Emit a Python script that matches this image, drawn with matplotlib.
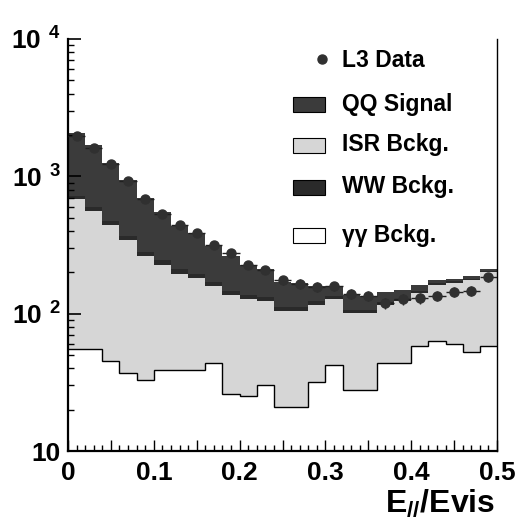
import numpy as np
import matplotlib
matplotlib.use("Agg")
import matplotlib.pyplot as plt
from matplotlib.patches import Rectangle
from matplotlib.ticker import MultipleLocator, FuncFormatter, LogLocator, NullFormatter

plt.rcParams["font.family"] = ["Liberation Sans", "DejaVu Sans"]
plt.rcParams["font.weight"] = "bold"
plt.rcParams["axes.labelweight"] = "bold"
plt.rcParams["mathtext.fontset"] = "custom"
plt.rcParams["mathtext.rm"] = "Liberation Sans:bold"
plt.rcParams["mathtext.it"] = "Liberation Sans:bold:italic"
plt.rcParams["mathtext.bf"] = "Liberation Sans:bold"

# 25 bins of E///Evis, width 0.02
bin_edges = np.arange(26) * 0.02
gg_bckg = [55, 55, 45, 37, 33, 39, 39, 39, 44, 26, 25, 30, 21,
           21, 32, 42, 28, 28, 44, 44, 58, 63, 60, 53, 58]
isr_bckg = [624, 503, 394, 306, 228, 189, 157, 143, 115, 110, 102, 93, 83,
            83, 84, 85, 73, 73, 72, 79, 84, 100, 108, 124, 142]
ww_bckg = [40, 35, 30, 26, 22, 19, 16, 14, 12, 11, 10, 9, 8,
           8, 7, 7, 6, 6, 6, 5, 5, 4, 4, 3, 4]
qq_signal = [1342, 1090, 790, 566, 416, 304, 222, 191, 142, 118, 91, 81, 59,
             56, 35, 24, 29, 27, 21, 20, 16, 10, 7, 7, 9]
l3_data = [1950, 1620, 1230, 924, 679, 528, 440, 385, 315, 277, 228, 209, 175,
           165, 157, 158, 140, 135, 120, 127, 129, 135, 144, 147, 184]

legend_labels = ["L3 Data", "QQ Signal", "ISR Bckg.", "WW Bckg.", "\u03b3\u03b3 Bckg."]

QQ_COL = "#3b3b3b"
WW_COL = "#2a2a2a"
ISR_COL = "#d6d6d6"


def main():
    fig = plt.figure(figsize=(5.2, 5.24), dpi=100)
    ax = fig.add_axes([0.1308, 0.1393, 0.8250, 0.7863])

    c_gg = np.array(gg_bckg, float)
    c_isr = c_gg + np.array(isr_bckg)
    c_ww = c_isr + np.array(ww_bckg)
    c_qq = c_ww + np.array(qq_signal)

    ax.stairs(c_isr, bin_edges, baseline=c_gg, fill=True, color=ISR_COL, lw=0, zorder=1)
    ax.stairs(c_ww, bin_edges, baseline=c_isr, fill=True, color=WW_COL, lw=0, zorder=1)
    ax.stairs(c_qq, bin_edges, baseline=c_ww, fill=True, color=QQ_COL, lw=0, zorder=1)
    ax.stairs(c_gg, bin_edges, baseline=None, color="black", lw=1, zorder=2)

    centers = 0.5 * (bin_edges[:-1] + bin_edges[1:])
    data = np.array(l3_data, float)
    ax.errorbar(centers, data, xerr=0.01, yerr=np.sqrt(data), fmt="o", ms=6.5,
                color="#303030", ecolor="#202020", elinewidth=1, capsize=0, zorder=3)

    ax.set_yscale("log")
    ax.set_xlim(0, 0.5)
    ax.set_ylim(10, 1e4)

    ax.xaxis.set_major_locator(MultipleLocator(0.05))
    ax.xaxis.set_minor_locator(MultipleLocator(0.01))

    def xfmt(v, pos):
        if abs(v * 10 - round(v * 10)) > 1e-6:
            return ""
        return "0" if abs(v) < 1e-9 else f"{v:.1f}"

    ax.xaxis.set_major_formatter(FuncFormatter(xfmt))

    def yfmt(v, pos):
        e = int(round(np.log10(v)))
        if e == 1:
            return "10"
        return r"$10^{\ \,%d}$" % e

    ax.yaxis.set_major_locator(LogLocator(base=10))
    ax.yaxis.set_major_formatter(FuncFormatter(yfmt))
    ax.yaxis.set_minor_locator(LogLocator(base=10, subs=np.arange(2, 10)))
    ax.yaxis.set_minor_formatter(NullFormatter())

    ax.tick_params(axis="x", which="major", direction="in", length=8, width=1,
                   labelsize=19, pad=7)
    ax.tick_params(axis="y", which="major", direction="in", length=9, width=1.2,
                   labelsize=19, pad=5)
    ax.tick_params(axis="both", which="minor", direction="in", length=4, width=1)

    ax.spines["top"].set_visible(False)
    ax.spines["left"].set_linewidth(1.6)
    ax.spines["bottom"].set_linewidth(1.6)
    ax.spines["right"].set_linewidth(1.0)

    ax.set_xlabel(r"E$_{//}$/Evis", fontsize=23, fontweight="bold", ha="right", va="center")
    ax.xaxis.set_label_coords(0.995, -0.128)

    # legend drawn by hand, no frame
    tr = ax.transAxes
    ax.plot([0.591], [0.951], "o", ms=6.5, color="#303030", transform=tr, clip_on=False)
    swatches = [(0.823, QQ_COL), (0.723, ISR_COL), (0.621, WW_COL), (0.505, "white")]
    text_y = [0.947, 0.842, 0.743, 0.641, 0.524]
    for (y0, col) in swatches:
        ax.add_patch(Rectangle((0.524, y0), 0.0746, 0.037, transform=tr,
                               facecolor=col, edgecolor="black", lw=0.8, zorder=4))
    for lab, ty in zip(legend_labels, text_y):
        ax.text(0.639, ty, lab, transform=tr, fontsize=16.5, ha="left", va="center",
                zorder=4)

    fig.savefig("out.png", dpi=100)


if __name__ == "__main__":
    main()
